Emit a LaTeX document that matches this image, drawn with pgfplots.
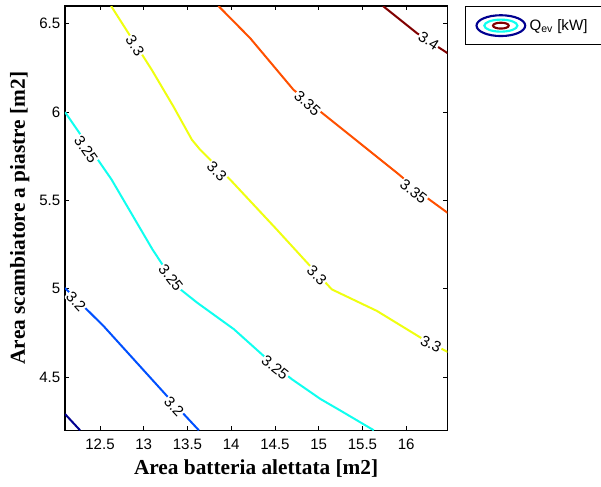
\documentclass[border=0pt]{standalone}
\usepackage{fontspec}
\setmainfont{Liberation Sans}
\newfontfamily\timesfont{Liberation Serif}
\usepackage{pgfplots}
\pgfplotsset{compat=1.18}
\definecolor{jetA}{rgb}{0,0,0.5625}
\definecolor{jetB}{rgb}{0,0.3125,1}
\definecolor{jetC}{rgb}{0.0625,1,0.9375}
\definecolor{jetD}{rgb}{0.9375,1,0.0625}
\definecolor{jetE}{rgb}{1,0.3125,0}
\definecolor{jetF}{rgb}{0.5,0,0}
\newcommand\tickfont{\fontsize{11.3}{13.5}\selectfont}
\newcommand\labfont{\timesfont\bfseries\fontsize{16}{19}\selectfont}
\tikzset{clab/.style={fill=white,inner sep=0.6pt,font=\tickfont}}
\begin{document}
\begin{tikzpicture}
\useasboundingbox (-48.75pt,-42.5pt) rectangle (402pt,322.7pt);
\begin{axis}[
  at={(0,0)}, anchor=south west,
  scale only axis, width=286.7pt, height=318.2pt,
  xmin=12.1, xmax=16.47, ymin=4.2, ymax=6.6,
  xtick={12.5,13,13.5,14,14.5,15,15.5,16},
  ytick={4.5,5,5.5,6,6.5},
  tick pos=both, tick align=inside,
  major tick length=3pt,
  every tick/.style={black, line width=0.6pt},
  axis line style={black, line width=0.8pt},
  /pgf/number format/assume math mode=true,
  tick label style={font=\tickfont},
  xticklabel style={yshift=-3pt},
  xlabel={Area batteria alettata [m2]},
  ylabel={Area scambiatore a piastre [m2]},
  label style={font=\labfont},
  xlabel style={at={([yshift=-33pt]axis description cs:0.5,0)}, anchor=base},
  ylabel style={at={([xshift=-30pt]axis description cs:0,0.5)}, anchor=base},
  legend style={at={(1.0463,1)}, anchor=north west, draw=black, line width=0.75pt,
    inner xsep=7.5pt, inner ysep=5.75pt, font=\tickfont,
    nodes={inner sep=0pt}, column sep=2.5pt},
  legend cell align=left,
]
\addlegendimage{legend image code/.code={
  \draw[jetA, line width=1.6pt] (18.25pt,0pt) ellipse (18.25pt and 7.8pt);
  \draw[jetC, line width=1.6pt] (18.25pt,0pt) ellipse (12.4pt and 4.5pt);
  \draw[jetF, line width=1.6pt] (18.25pt,0pt) ellipse (5.9pt and 2.2pt);
}}
\addlegendentry{Q\textsubscript{ev} [kW]\kern6pt}
% 3.15
\addplot[jetA, line width=1.5pt, forget plot] coordinates {(12.1,4.292) (12.272,4.2)};
% 3.2
\addplot[jetB, line width=1.5pt, forget plot] coordinates {(12.1,5.005) (12.54,4.79) (13.28,4.386) (13.63,4.2)};
% 3.25
\addplot[jetC, line width=1.5pt, forget plot] coordinates {(12.1,6.0) (12.63,5.62) (13.10,5.223) (13.225,5.129) (13.42,4.997) (13.61,4.922) (14.03,4.772) (14.37,4.621) (14.69,4.49) (15.02,4.377) (15.25,4.311) (15.63,4.2)};
% 3.3
\addplot[jetD, line width=1.5pt, forget plot] coordinates {(12.627,6.6) (13.092,6.239) (13.339,6.032) (13.55,5.844) (13.645,5.787) (13.988,5.618) (14.52,5.336) (14.903,5.129) (15.15,4.997) (15.666,4.875) (16.162,4.725) (16.474,4.643)};
% 3.35
\addplot[jetE, line width=1.5pt, forget plot] coordinates {(13.854,6.6) (14.217,6.418) (14.712,6.126) (15.017,6.004) (15.895,5.656) (16.238,5.515) (16.474,5.43)};
% 3.4
\addplot[jetF, line width=1.5pt, forget plot] coordinates {(15.735,6.6) (16.124,6.446) (16.474,6.333)};
% contour labels
\node[clab, rotate=-47] at (axis cs:12.226,4.93) {3.2};
\node[clab, rotate=-47] at (axis cs:13.347,4.335) {3.2};
\node[clab, rotate=-55] at (axis cs:12.34,5.79) {3.25};
\node[clab, rotate=-52] at (axis cs:13.31,5.063) {3.25};
\node[clab, rotate=-38] at (axis cs:14.503,4.555) {3.25};
\node[clab, rotate=-57] at (axis cs:12.90,6.375) {3.3};
\node[clab, rotate=-45] at (axis cs:13.836,5.665) {3.3};
\node[clab, rotate=-45] at (axis cs:14.98,5.078) {3.3};
\node[clab, rotate=-25] at (axis cs:16.284,4.687) {3.3};
\node[clab, rotate=-42] at (axis cs:14.872,6.051) {3.35};
\node[clab, rotate=-37] at (axis cs:16.085,5.552) {3.35};
\node[clab, rotate=-33] at (axis cs:16.257,6.404) {3.4};
\end{axis}
\end{tikzpicture}
\end{document}
